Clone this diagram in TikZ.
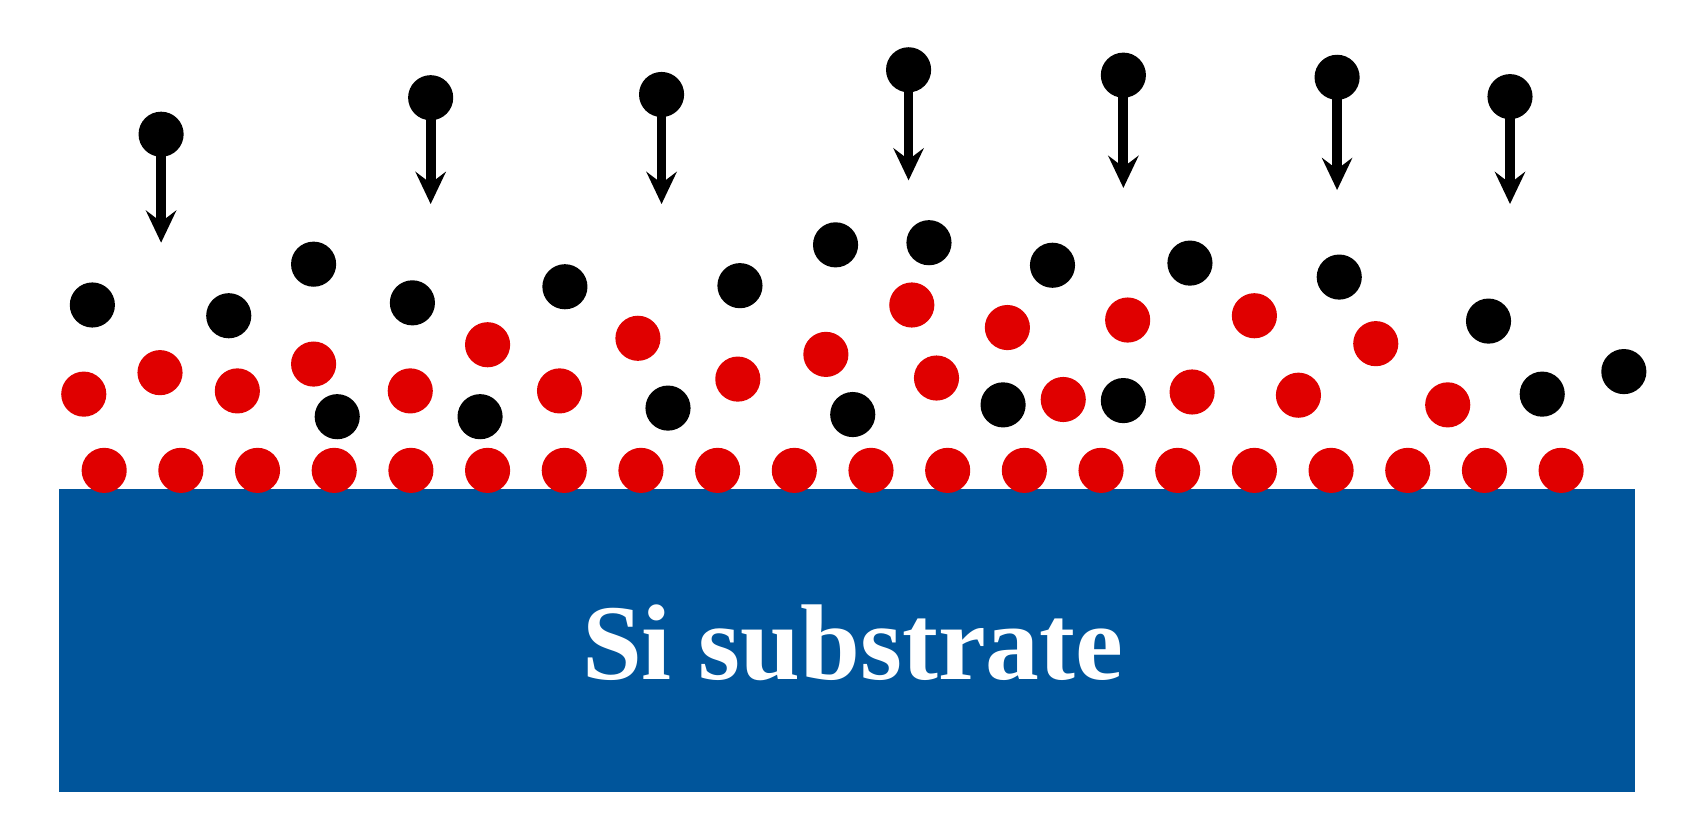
\documentclass[tikz,border=0pt]{standalone}
\usepackage{fontspec}
\setmainfont{Liberation Serif}[BoldFont={Liberation Serif Bold}]
\usepackage{xcolor}
\usepackage{tikz}
\usetikzlibrary{arrows.meta}
\definecolor{sired}{RGB}{224,0,0}
\definecolor{siblue}{RGB}{0,85,155}

\begin{document}
\begin{tikzpicture}[x=0.01cm,y=-0.01cm,
	atom/.style={circle,inner sep=0pt,minimum size=0.42cm},
	oxy/.style={atom,fill=black},
	si/.style={atom,fill=sired},
	drop/.style={line width=2.6pt,-{Stealth[length=8.5pt,width=8pt,inset=3pt]}}]
	\useasboundingbox (0,0) rectangle (1568,780);
	\fill[siblue] (55,455) rectangle (1522,737);
	\node[white,anchor=base,font=\fontsize{28.5}{30}\selectfont\bfseries] (sub) at (794,633) {Si substrate};
	\foreach \i in {0,...,19}
		\node[si] (b\i) at ({97+71.4*\i},438) {};
	\foreach \x/\y [count=\n] in {78/367,149/347,221/364,292/339,382/364,454/321,521/364,594/315,687/353,769/330,849/284,872/352,938/305,990/372,1050/298,1110/365,1168/294,1209/368,1281/320,1348/377}
		\node[si] (r\n) at (\x,\y) {};
	\foreach \x/\y [count=\n] in {86/284,213/294,292/246,384/282,526/267,689/266,778/228,865/226,980/247,1108/245,1247/258,1386/299,1512/346,314/388,447/388,622/380,794/386,934/377,1046/373,1436/367}
		\node[oxy] (k\n) at (\x,\y) {};
	\foreach \x/\y/\t [count=\n] in {150/125/226,401/91/190,616/88/190,846/65/168,1046/70/175,1245/72/177,1406/90/190}{
		\node[oxy] (f\n) at (\x,\y) {};
		\coordinate (t\n) at (\x,\t);
		\draw[drop] (f\n.center) -- (t\n);
	}
\end{tikzpicture}
\end{document}
